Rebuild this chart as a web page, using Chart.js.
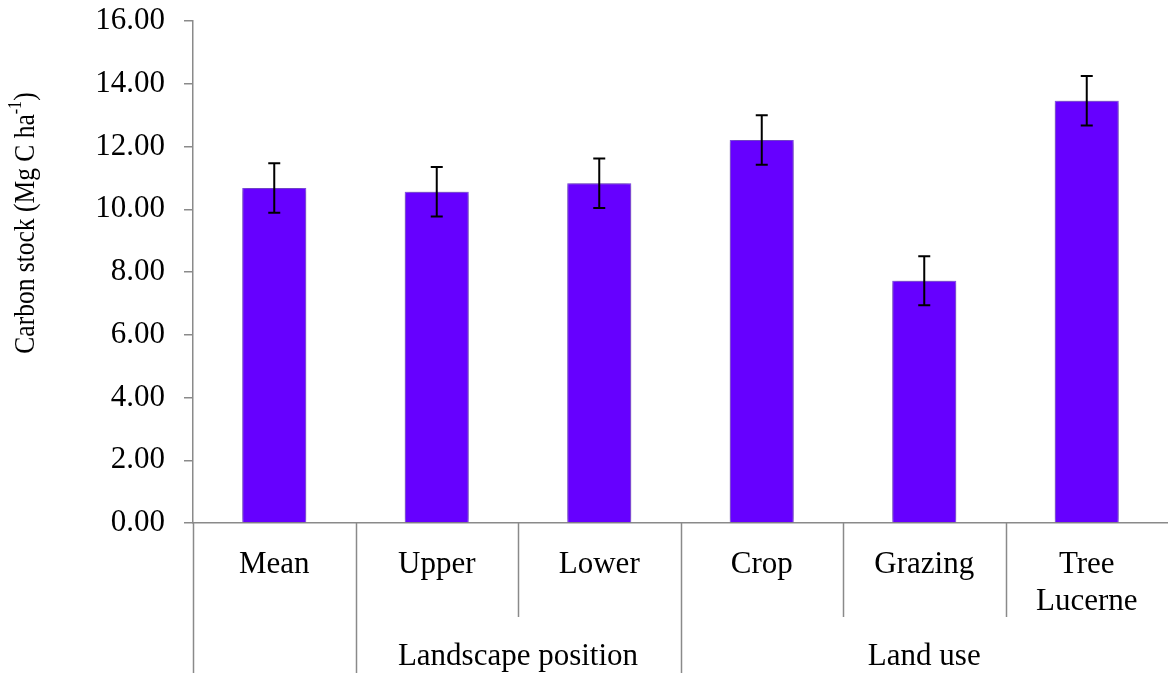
<!DOCTYPE html>
<html>
<head>
<meta charset="utf-8">
<script src="https://cdn.jsdelivr.net/npm/chart.js@4"></script>
<style>
  body { margin: 0; background: #fff; }
  #wrap { width: 1168px; height: 673px; }
</style>
</head>
<body>
<div id="wrap"><canvas id="grafico"></canvas></div>
<script>
const categorias = ['Mean', 'Upper', 'Lower', 'Crop', 'Grazing', ['Tree', 'Lucerne']];
const grupos = ['', 'Landscape position', 'Land use'];
const gruposTamano = [1, 2, 3];
const carbono = [10.68, 10.56, 10.83, 12.21, 7.72, 13.46];
const errorEst = [0.79, 0.79, 0.79, 0.79, 0.78, 0.79];
const yTicks = [0, 2, 4, 6, 8, 10, 12, 14, 16];

const fuente = "'Liberation Serif', 'Times New Roman', serif";
const gris = '#8a8a8a';

// sombra suave alrededor de las barras
const sombraBarras = {
  id: 'sombraBarras',
  beforeDatasetsDraw(chart) {
    const ctx = chart.ctx;
    ctx.save();
    ctx.shadowColor = 'rgba(0,0,0,0.5)';
    ctx.shadowBlur = 6;
  },
  afterDatasetsDraw(chart) {
    chart.ctx.restore();
  }
};

// barras de error
const barrasError = {
  id: 'barrasError',
  afterDatasetsDraw(chart) {
    const ctx = chart.ctx;
    const y = chart.scales.y;
    const meta = chart.getDatasetMeta(0);
    ctx.save();
    ctx.strokeStyle = '#000';
    ctx.lineWidth = 2;
    meta.data.forEach((bar, i) => {
      const arriba = y.getPixelForValue(carbono[i] + errorEst[i]);
      const abajo = y.getPixelForValue(carbono[i] - errorEst[i]);
      ctx.beginPath();
      ctx.moveTo(bar.x, arriba);
      ctx.lineTo(bar.x, abajo);
      ctx.moveTo(bar.x - 6, arriba);
      ctx.lineTo(bar.x + 6, arriba);
      ctx.moveTo(bar.x - 6, abajo);
      ctx.lineTo(bar.x + 6, abajo);
      ctx.stroke();
    });
    ctx.restore();
  }
};

// tabla de categorias debajo del eje x
const ejeAgrupado = {
  id: 'ejeAgrupado',
  afterDraw(chart) {
    const ctx = chart.ctx;
    const x = chart.scales.x;
    const area = chart.chartArea;
    const n = categorias.length;
    const borde = i => {
      if (i <= 0) return x.left;
      if (i >= n) return x.right;
      return (x.getPixelForValue(i - 1) + x.getPixelForValue(i)) / 2;
    };
    const inicios = [];
    let acum = 0;
    gruposTamano.forEach(t => { inicios.push(acum); acum += t; });

    ctx.save();
    ctx.strokeStyle = gris;
    ctx.lineWidth = 1.5;
    for (let i = 0; i < n; i++) {
      const largo = inicios.includes(i) ? chart.height : area.bottom + 94;
      const px = Math.round(borde(i)) + 0.5;
      ctx.beginPath();
      ctx.moveTo(px, area.bottom);
      ctx.lineTo(px, largo);
      ctx.stroke();
    }
    ctx.fillStyle = '#000';
    ctx.font = '31px ' + fuente;
    ctx.textAlign = 'center';
    ctx.textBaseline = 'alphabetic';
    grupos.forEach((g, k) => {
      const cx = (borde(inicios[k]) + borde(inicios[k] + gruposTamano[k])) / 2;
      ctx.fillText(g, cx, area.bottom + 142);
    });
    ctx.restore();
  }
};

// titulo del eje y con superindice (algo comprimido a lo largo)
const tituloY = {
  id: 'tituloY',
  afterDraw(chart) {
    const ctx = chart.ctx;
    const area = chart.chartArea;
    const base = 'Carbon stock (Mg C ha';
    const sup = '-1';
    const fin = ')';
    ctx.save();
    ctx.fillStyle = '#000';
    ctx.translate(34, area.top + 202);
    ctx.rotate(-Math.PI / 2);
    ctx.scale(0.85, 1);
    ctx.font = '30px ' + fuente;
    const w1 = ctx.measureText(base).width;
    const w3 = ctx.measureText(fin).width;
    ctx.font = '19px ' + fuente;
    const w2 = ctx.measureText(sup).width;
    let xx = -(w1 + w2 + w3) / 2;
    ctx.textBaseline = 'alphabetic';
    ctx.font = '30px ' + fuente;
    ctx.fillText(base, xx, 0);
    xx += w1;
    ctx.font = '19px ' + fuente;
    ctx.fillText(sup, xx, -13);
    xx += w2;
    ctx.font = '30px ' + fuente;
    ctx.fillText(fin, xx, 0);
    ctx.restore();
  }
};

const ctx = document.getElementById('grafico').getContext('2d');
new Chart(ctx, {
  type: 'bar',
  data: {
    labels: categorias,
    datasets: [{
      label: 'Carbon stock',
      data: carbono,
      backgroundColor: '#6600ff',
      borderColor: '#8f55ff',
      borderWidth: 1,
      categoryPercentage: 1,
      barPercentage: 0.394
    }]
  },
  options: {
    responsive: true,
    maintainAspectRatio: false,
    animation: false,
    layout: { padding: { top: 21, right: 0, left: 0, bottom: 0 } },
    plugins: {
      legend: { display: false },
      tooltip: { enabled: false }
    },
    scales: {
      x: {
        offset: true,
        grid: { display: false, drawTicks: false },
        border: { display: true, color: gris, width: 1.5 },
        ticks: {
          color: '#000',
          font: { family: fuente, size: 31, lineHeight: 1.2 },
          padding: 23,
          maxRotation: 0,
          autoSkip: false
        },
        afterFit(scale) {
          scale.height = 150;
          scale.paddingLeft = 0;
          scale.paddingRight = 0;
        }
      },
      y: {
        min: 0,
        max: 16,
        afterBuildTicks(scale) {
          scale.ticks = yTicks.map(v => ({ value: v }));
        },
        grid: { drawOnChartArea: false, drawTicks: true, tickLength: 9, color: gris, lineWidth: 1.5 },
        border: { display: true, color: gris, width: 1.5 },
        ticks: {
          color: '#000',
          font: { family: fuente, size: 31 },
          padding: 19,
          callback: v => v.toFixed(2)
        },
        afterFit(scale) {
          scale.width = 193;
          scale.paddingTop = 0;
          scale.paddingBottom = 0;
        }
      }
    }
  },
  plugins: [sombraBarras, barrasError, ejeAgrupado, tituloY]
});
</script>
</body>
</html>
